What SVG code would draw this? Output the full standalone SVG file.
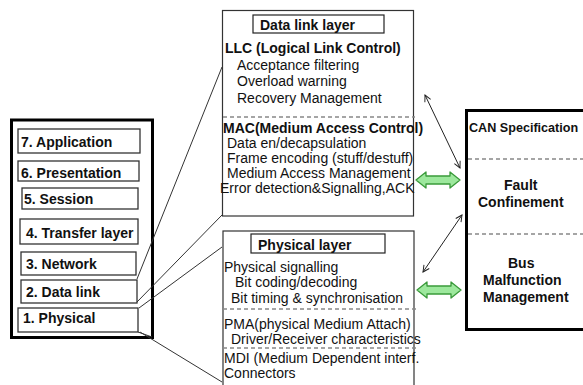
<svg xmlns="http://www.w3.org/2000/svg" width="583" height="385" viewBox="0 0 583 385">
  <style>
    text { font-family: "Liberation Sans", Arial, sans-serif; font-size: 14px; fill: #111; }
    .b { font-weight: bold; }
    .frame { fill: none; stroke: #000; stroke-width: 3; }
    .layer { fill: #fff; stroke: #333; stroke-width: 1.3; }
    .panel { fill: #fff; stroke: #333; stroke-width: 1.2; }
    .title { fill: #fff; stroke: #222; stroke-width: 1.2; }
    .dash { stroke: #888; stroke-width: 1.3; stroke-dasharray: 4 3; fill: none; }
    .link { stroke: #333; stroke-width: 1; fill: none; }
    .thin { stroke: #222; stroke-width: 1; fill: none; marker-start: url(#tip); marker-end: url(#tip); }
    .fat { fill: #9de89d; stroke: #3a9a3a; stroke-width: 1.3; stroke-linejoin: round; }
  </style>
  <defs>
    <marker id="tip" viewBox="0 0 10 10" refX="9" refY="5" markerWidth="8" markerHeight="8" markerUnits="userSpaceOnUse" orient="auto-start-reverse">
      <path d="M1,1 L9,5 L1,9" fill="none" stroke="#222" stroke-width="1.2"/>
    </marker>
  </defs>

  <rect width="583" height="385" fill="#fff"/>

  <!-- OSI reference stack -->
  <g id="osi-stack">
    <rect class="frame" x="11.5" y="120" width="141" height="217.5"/>
    <g id="osi-7"><rect class="layer" x="18" y="129" width="122" height="24"/><text class="b" x="21" y="147">7. Application</text></g>
    <g id="osi-6"><rect class="layer" x="18" y="161" width="121" height="20"/><text class="b" x="21" y="178">6. Presentation</text></g>
    <g id="osi-5"><rect class="layer" x="22" y="188" width="116" height="21"/><text class="b" x="24" y="204">5. Session</text></g>
    <g id="osi-4"><rect class="layer" x="20" y="219" width="118" height="25"/><text class="b" x="26" y="238">4. Transfer layer</text></g>
    <g id="osi-3"><rect class="layer" x="21" y="252" width="115" height="23"/><text class="b" x="26" y="269">3. Network</text></g>
    <g id="osi-2"><rect class="layer" x="21" y="280" width="116" height="23"/><text class="b" x="26" y="297">2. Data link</text></g>
    <g id="osi-1"><rect class="layer" x="18" y="308" width="120" height="24"/><text class="b" x="23" y="323">1. Physical</text></g>
  </g>

  <!-- Data link layer panel -->
  <g id="datalink-layer">
    <rect class="panel" x="222.5" y="10.5" width="191" height="205.5"/>
    <rect class="title" x="253" y="15" width="131" height="18"/>
    <text class="b" x="260" y="30">Data link layer</text>
    <text class="b" x="225" y="53">LLC (Logical Link Control)</text>
    <text x="237" y="70">Acceptance filtering</text>
    <text x="237" y="86">Overload warning</text>
    <text x="237" y="103">Recovery Management</text>
    <line class="dash" x1="223" y1="117" x2="415" y2="117"/>
    <text class="b" x="223" y="133">MAC(Medium Access Control)</text>
    <text x="227" y="148">Data en/decapsulation</text>
    <text x="227" y="163">Frame encoding (stuff/destuff)</text>
    <text x="227" y="178">Medium Access Management</text>
    <text x="220" y="193">Error detection&amp;Signalling,ACK</text>
  </g>

  <!-- Physical layer panel -->
  <g id="physical-layer">
    <rect class="panel" x="223" y="231" width="191" height="170"/>
    <rect class="title" x="251" y="234" width="134" height="19"/>
    <text class="b" x="258" y="250">Physical layer</text>
    <text x="224" y="272">Physical signalling</text>
    <text x="235" y="287">Bit coding/decoding</text>
    <text x="231" y="303">Bit timing &amp; synchronisation</text>
    <line class="dash" x1="223" y1="309" x2="416" y2="309"/>
    <text x="224" y="329">PMA(physical Medium Attach)</text>
    <text x="231" y="344">Driver/Receiver characteristics</text>
    <line class="dash" x1="223" y1="348" x2="416" y2="348"/>
    <text x="224" y="363">MDI (Medium Dependent interf.</text>
    <text x="224" y="378">Connectors</text>
  </g>

  <!-- CAN specification panel -->
  <g id="can-spec">
    <rect class="frame" x="466.5" y="110.5" width="130" height="219"/>
    <text class="b" x="469" y="132" style="font-size:12.6px">CAN Specification</text>
    <line class="dash" x1="468" y1="159" x2="583" y2="159"/>
    <text class="b" x="504" y="190">Fault</text>
    <text class="b" x="478" y="207">Confinement</text>
    <line class="dash" x1="468" y1="234" x2="583" y2="234"/>
    <text class="b" x="508" y="268">Bus</text>
    <text class="b" x="483" y="285">Malfunction</text>
    <text class="b" x="483" y="302">Management</text>
  </g>

  <!-- connectors -->
  <g id="connectors">
    <line class="link" x1="137" y1="279" x2="222" y2="67"/>
    <line class="link" x1="137" y1="302" x2="222" y2="215"/>
    <line class="link" x1="139" y1="308" x2="222" y2="247"/>
    <line class="link" x1="140" y1="332" x2="222" y2="382"/>
    <line class="link" x1="138" y1="332" x2="152" y2="337"/>
    <line class="thin" x1="425" y1="95" x2="460" y2="168"/>
    <line class="thin" x1="462" y1="215" x2="423" y2="272"/>
    <polygon class="fat" points="416,180 426,172 426,176 450,176 450,172 460,180 450,188 450,184 426,184 426,188"/>
    <polygon class="fat" points="417,290 427,282 427,286 451,286 451,282 461,290 451,298 451,294 427,294 427,298"/>
  </g>
</svg>
